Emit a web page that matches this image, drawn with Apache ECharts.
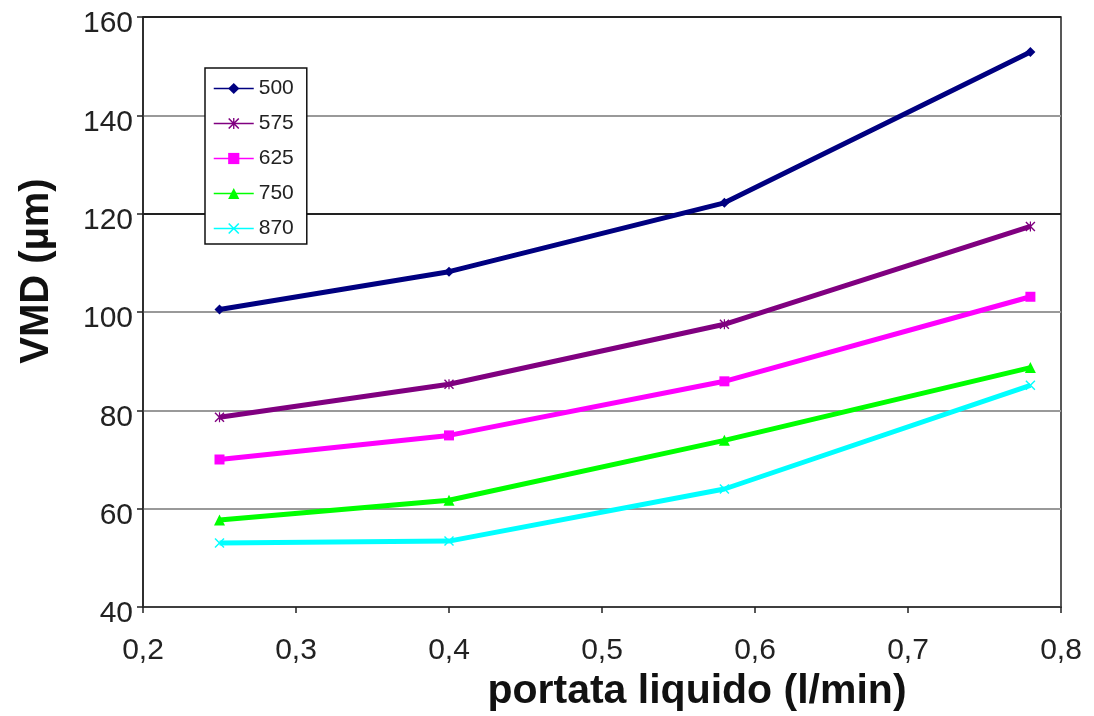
<!DOCTYPE html>
<html>
<head>
<meta charset="utf-8">
<script src="https://cdn.jsdelivr.net/npm/echarts@6/dist/echarts.min.js"></script>
<style>html,body{margin:0;padding:0;background:#fff}#c{width:1094px;height:716px}</style>
</head>
<body>
<div id="c"></div>
<script>
const xValues = [0.25, 0.40, 0.58, 0.78];
const seriesNames = ['500', '575', '625', '750', '870'];
const s500 = [100.5, 108.2, 122.2, 152.9];
const s575 = [78.6, 85.3, 97.5, 117.4];
const s625 = [70.0, 74.9, 85.9, 103.1];
const s750 = [57.7, 61.7, 73.9, 88.7];
const s870 = [53.0, 53.4, 64.0, 85.1];
const xAxisTitle = 'portata liquido (l/min)';
const yAxisTitle = 'VMD (µm)';

const colors = ['#000080', '#800080', '#FF00FF', '#00FF00', '#00FFFF'];
const xPath = 'path://M0,1L1,0L5,4L9,0L10,1L6,5L10,9L9,10L5,6L1,10L0,9L4,5Z';
const starPath = 'path://M0,1L1,0L5,4L9,0L10,1L6,5L10,9L9,10L5,6L1,10L0,9L4,5Z M4.4,0L5.6,0L5.6,10L4.4,10Z';
const symbols = ['diamond', starPath, 'rect', 'triangle', xPath];
const sizes = [10, 10, 10, 11, 10];
const allData = [s500, s575, s625, s750, s870];

const font = 'Liberation Sans, Arial, sans-serif';
const chart = echarts.init(document.getElementById('c'));
chart.setOption({
  animation: false,
  backgroundColor: '#fff',
  grid: {left: 143, right: 33, top: 17, bottom: 109, show: true, borderColor: '#222', borderWidth: 1.5, backgroundColor: 'transparent'},
  legend: {
    orient: 'vertical', left: 205, top: 68,
    borderColor: '#111', borderWidth: 1.5, backgroundColor: '#fff',
    padding: [10, 13, 5, 8], itemGap: 14, itemWidth: 40, itemHeight: 14,
    textStyle: {fontFamily: font, fontSize: 21, color: '#222'},
    lineStyle: {width: 1.5},
    data: seriesNames
  },
  graphic: [
    {type: 'text', x: 37, y: 271, rotation: Math.PI / 2,
     style: {text: yAxisTitle, fontFamily: font, fontSize: 40, fontWeight: 'bold', fill: '#111', align: 'center', verticalAlign: 'middle'}},
    {type: 'text', x: 697, y: 692,
     style: {text: xAxisTitle, fontFamily: font, fontSize: 41, fontWeight: 'bold', fill: '#111', align: 'center', verticalAlign: 'middle'}}
  ],
  xAxis: {
    type: 'value', min: 0.2, max: 0.8, interval: 0.1,
    axisLine: {lineStyle: {color: '#222', width: 1.5}},
    axisTick: {show: true, length: 6, lineStyle: {color: '#222', width: 1.5}},
    axisLabel: {fontFamily: font, fontSize: 30, color: '#222', margin: 29,
      formatter: v => v.toFixed(1).replace('.', ',')},
    splitLine: {show: false}
  },
  yAxis: {
    type: 'value', min: 40, max: 160, interval: 20,
    axisLine: {show: true, lineStyle: {color: '#222', width: 1.5}},
    axisTick: {show: true, length: 6, lineStyle: {color: '#222', width: 1.5}},
    axisLabel: {fontFamily: font, fontSize: 30, color: '#222', margin: 10, verticalAlign: 'top', lineHeight: 14},
    splitLine: {show: true, lineStyle: {width: 2, color: ['#999', '#999', '#999', '#999', '#222', '#999', '#222']}}
  },
  series: seriesNames.map((n, i) => ({
    name: n, type: 'line',
    data: xValues.map((x, j) => [x, allData[i][j]]),
    symbol: symbols[i], symbolSize: sizes[i], showAllSymbol: true,
    lineStyle: {color: colors[i], width: 5},
    itemStyle: {color: colors[i]},
    z: 10 - i
  }))
});
</script>
</body>
</html>
